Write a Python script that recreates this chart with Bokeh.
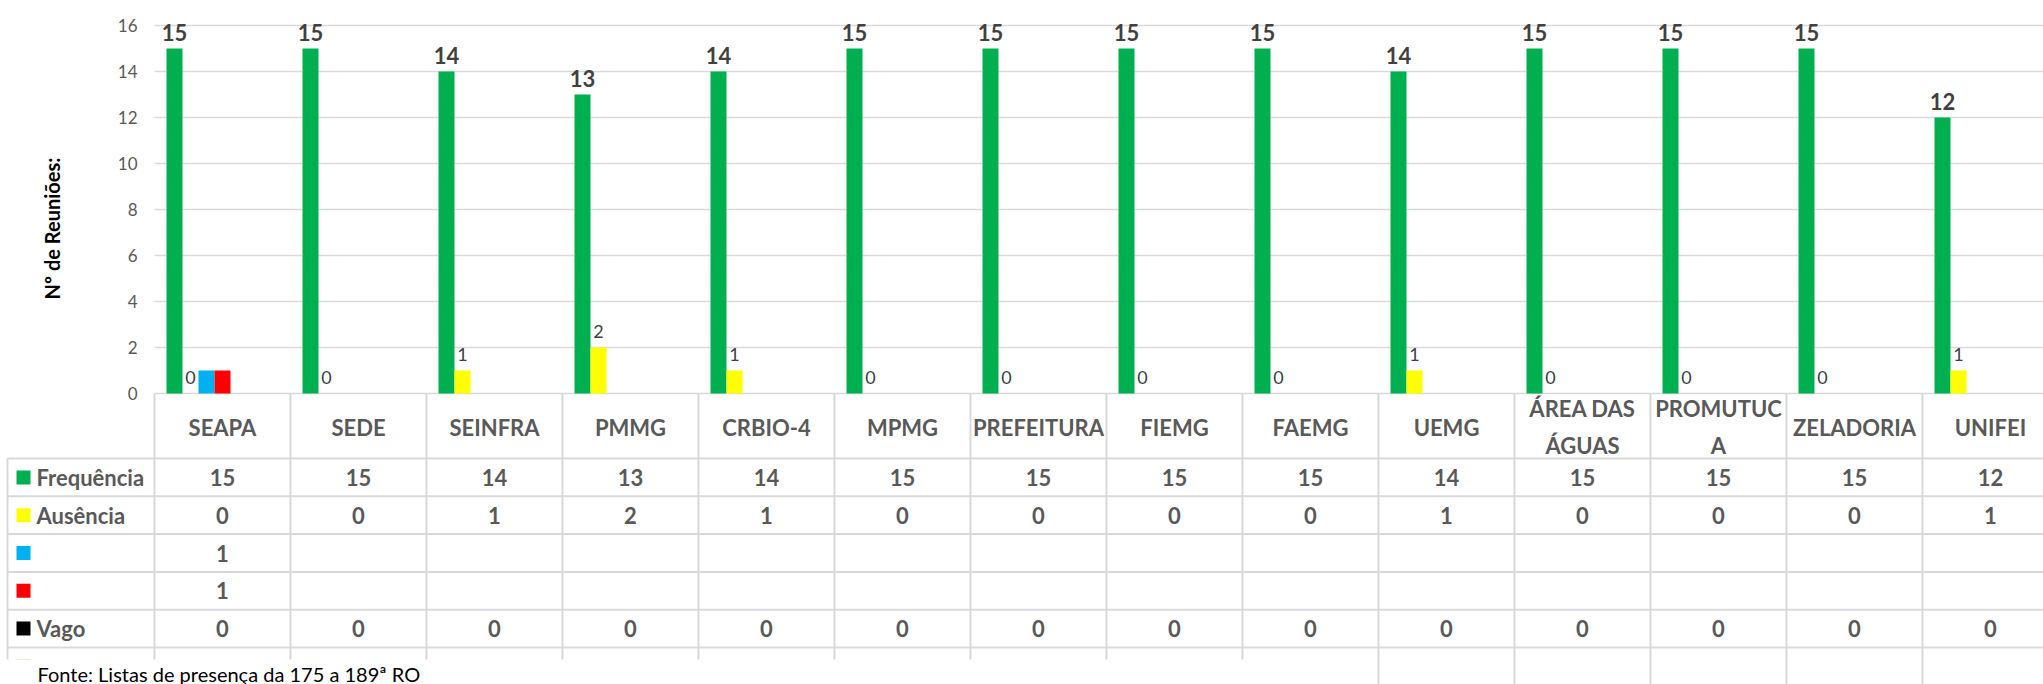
import math
import numpy as np
from bokeh.plotting import figure
from bokeh.models import Range1d, ColumnDataSource
from bokeh.core.properties import value
from bokeh.embed import file_html
from bokeh.resources import INLINE

nan = float("nan")

# ---------------- data ----------------
categories = ["SEAPA", "SEDE", "SEINFRA", "PMMG", "CRBIO-4", "MPMG", "PREFEITURA",
              "FIEMG", "FAEMG", "UEMG", "ÁREA DAS\nÁGUAS", "PROMUTUC\nA", "ZELADORIA", "UNIFEI"]
frequencia = [15, 15, 14, 13, 14, 15, 15, 15, 15, 14, 15, 15, 15, 12]
ausencia = [0, 0, 1, 2, 1, 0, 0, 0, 0, 1, 0, 0, 0, 1]
azul = [1, nan, nan, nan, nan, nan, nan, nan, nan, nan, nan, nan, nan, nan]
vermelho = [1, nan, nan, nan, nan, nan, nan, nan, nan, nan, nan, nan, nan, nan]
vago = [0, 0, 0, 0, 0, 0, 0, 0, 0, 0, 0, 0, 0, 0]
laranja = [nan] * 14
cinza = [nan] * 14
series_values = [frequencia, ausencia, azul, vermelho, vago, laranja, cinza]
series_names = ["Frequência", "Ausência", "", "", "Vago", "", ""]
series_colors = ["#00B050", "#FFFF00", "#00B0F0", "#FF0000", "#000000", "#F79646", "#A5A5A5"]
y_ticks = [0, 2, 4, 6, 8, 10, 12, 14, 16]
y_title = "Nº de Reuniões:"
source_note = "Fonte: Listas de presença da 175 a 189ª RO"

# ---------------- layout constants (canvas pixels) ----------------
FONT = value("Lato")
W, H = 2043, 684
PX = 136.0                   # px per category
PY = 23.0                    # px per value unit
PLOT_LEFT = 154              # x of plot area left
ZERO_Y = 393                 # y of value 0
GRID = "#d9d9d9"
TXT = "#595959"
LBL = "#404040"

def dx(px):
    return (px - PLOT_LEFT) / PX

x_end = dx(W)
bw = 16.0 / PX
n = len(categories)
idx = np.arange(n)

p = figure(width=W, height=H, output_backend="svg", toolbar_location=None,
           x_range=Range1d(dx(0), x_end),
           y_range=Range1d((ZERO_Y - H) / PY, ZERO_Y / PY),
           x_axis_location=None, y_axis_location=None,
           min_border_left=0, min_border_right=0, min_border_top=0, min_border_bottom=0)
p.extra_y_ranges = {"tbl": Range1d(H, 0)}
p.outline_line_color = None
p.grid.visible = False

# ---------------- chart ----------------
p.segment(x0=[0] * len(y_ticks), y0=y_ticks, x1=[x_end] * len(y_ticks), y1=y_ticks,
          line_color=GRID, line_width=1.5)
p.text(x=[dx(137)] * len(y_ticks), y=y_ticks, text=[str(v) for v in y_ticks],
       text_font=FONT, text_font_size="17px", text_color=TXT,
       text_align="right", text_baseline="middle")

k_mid = (len(series_values) - 1) / 2.0
for k, (vals, col) in enumerate(zip(series_values, series_colors)):
    xs = idx + 0.5 + (k - k_mid) * bw
    src = ColumnDataSource(dict(x=xs, top=vals))
    p.vbar(x="x", top="top", bottom=0, width=bw, source=src, fill_color=col, line_color=None)

x_f = idx + 0.5 + (0 - k_mid) * bw
p.text(x=x_f, y=frequencia, text=[str(v) for v in frequencia], text_font=FONT,
       text_font_size="22px", text_font_style="bold", text_color=LBL,
       text_align="center", text_baseline="alphabetic", y_offset=-16)
x_a = idx + 0.5 + (1 - k_mid) * bw
p.text(x=x_a, y=ausencia, text=[str(v) for v in ausencia], text_font=FONT,
       text_font_size="18px", text_color=LBL,
       text_align="center", text_baseline="alphabetic", y_offset=-16)

p.text(x=[dx(51)], y=[228], text=[y_title], angle=math.pi / 2, y_range_name="tbl",
       text_font=FONT, text_font_size="20px", text_font_style="bold", text_color="#000000",
       text_align="center", text_baseline="middle")

# ---------------- data table ----------------
header_top, header_bot = ZERO_Y, 458
row_h = 37.8
row_edges = [header_bot + i * row_h for i in range(len(series_values) + 1)]
row_centers = [(row_edges[i] + row_edges[i + 1]) / 2 for i in range(len(series_values))]
left_edge = dx(7)

p.segment(x0=[left_edge] * len(row_edges), y0=row_edges, x1=[x_end] * len(row_edges),
          y1=row_edges, line_color=GRID, line_width=2, y_range_name="tbl")
bounds = list(range(n + 1))
p.segment(x0=bounds, y0=[header_top] * len(bounds), x1=bounds, y1=[H] * len(bounds),
          line_color=GRID, line_width=2, y_range_name="tbl")
p.segment(x0=[left_edge], y0=[header_bot], x1=[left_edge], y1=[H],
          line_color=GRID, line_width=2, y_range_name="tbl")

p.text(x=idx + 0.5, y=[(header_top + header_bot) / 2 + 1] * n, text=categories,
       text_font=FONT, text_font_size="22px", text_font_style="bold", text_color=TXT,
       text_align="center", text_baseline="middle", text_line_height=1.35,
       y_range_name="tbl")

for r, (name, vals, col) in enumerate(zip(series_names, series_values, series_colors)):
    yc = row_centers[r]
    p.rect(x=[dx(23)], y=[yc], width=14, height=14, width_units="screen",
           height_units="screen", fill_color=col, line_color=None, y_range_name="tbl")
    if name:
        p.text(x=[dx(36)], y=[yc], text=[name], text_font=FONT, text_font_size="22px",
               text_font_style="bold", text_color=TXT, text_align="left",
               text_baseline="middle", y_range_name="tbl")
    strs = ["" if (isinstance(v, float) and math.isnan(v)) else str(v) for v in vals]
    p.text(x=idx + 0.5, y=[yc] * n, text=strs, text_font=FONT, text_font_size="22px",
           text_font_style="bold", text_color=TXT, text_align="center",
           text_baseline="middle", y_range_name="tbl")

# note box over the bottom-left part
p.quad(left=[dx(0)], right=[dx(1346)], top=[659], bottom=[H + 5],
       fill_color="white", line_color=None, y_range_name="tbl")
p.text(x=[dx(37)], y=[673], text=[source_note], text_font=FONT, text_font_size="20px",
       text_color="#000000", text_align="left", text_baseline="alphabetic",
       y_range_name="tbl")

open("out.html", "w").write(file_html(p, INLINE))
